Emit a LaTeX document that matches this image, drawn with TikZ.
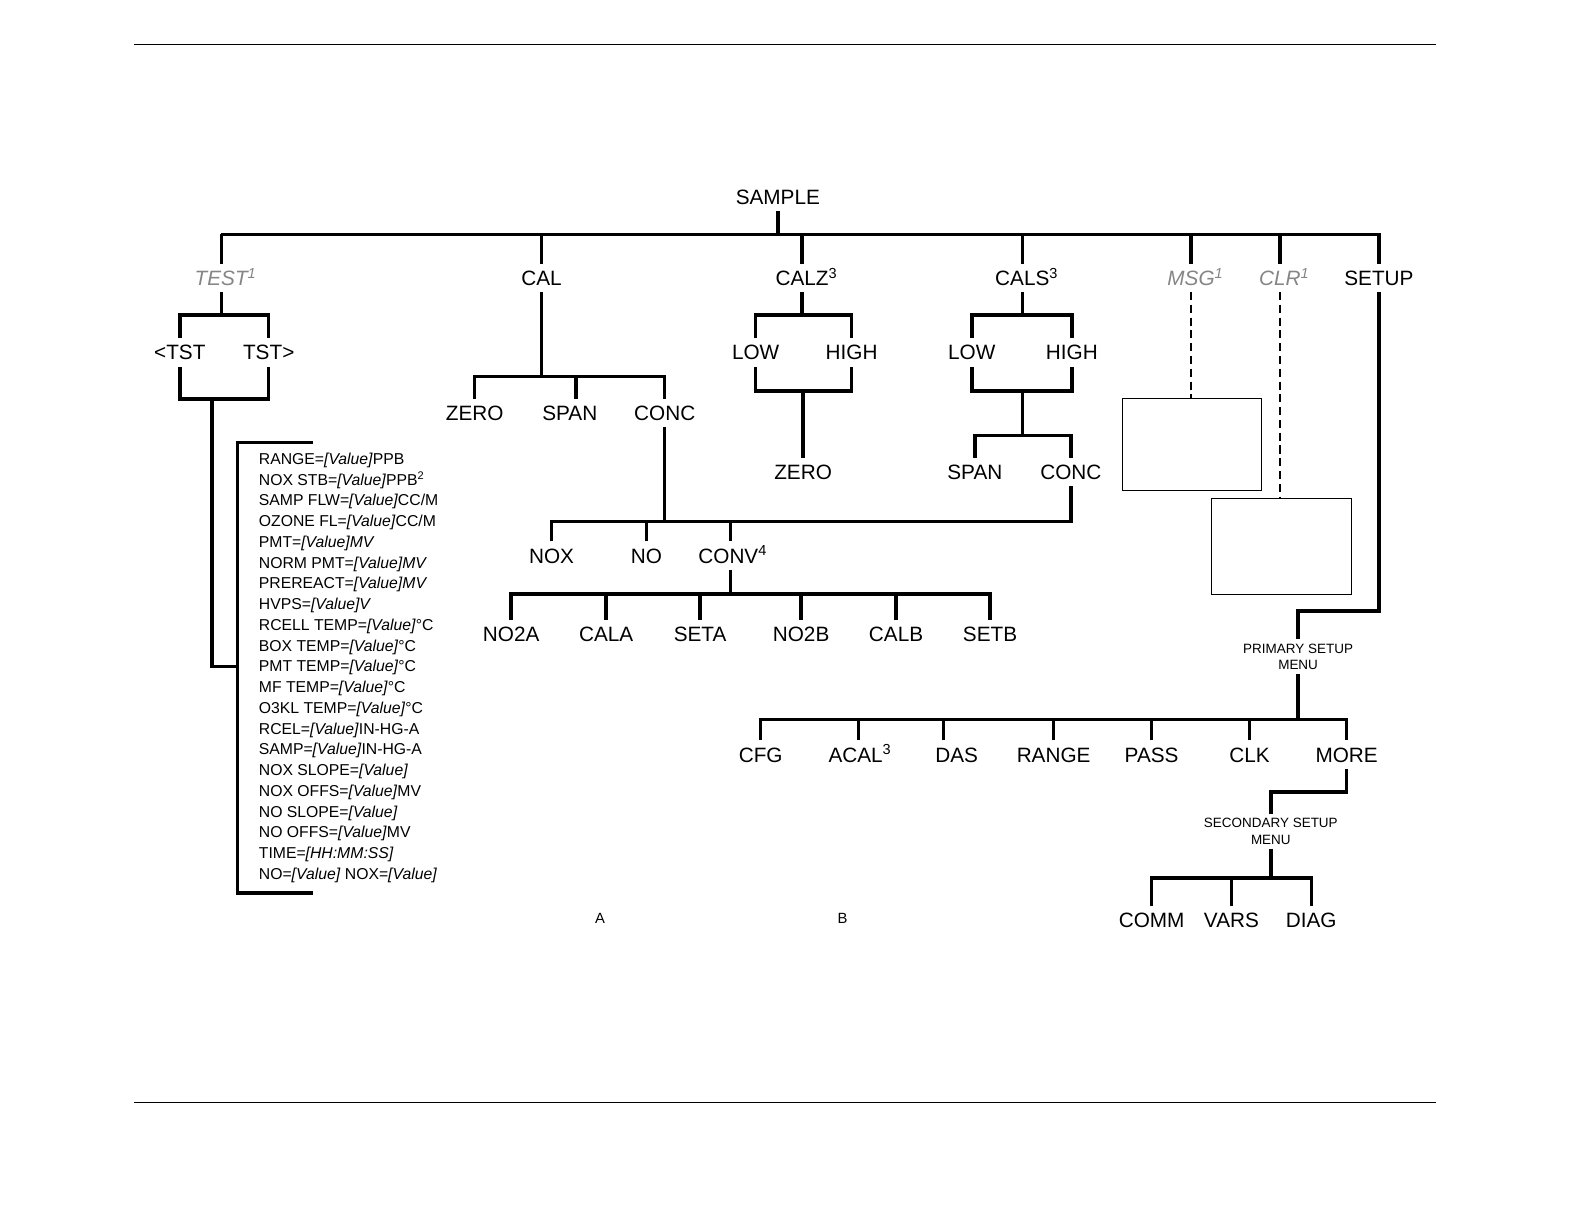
\documentclass[tikz,border=0pt]{standalone}
\usepackage{fontspec}
\setmainfont{Liberation Sans}
\newcommand\ival[1]{\textit{#1}}
\newcommand\supr[1]{\rlap{\textsuperscript{#1}}}
\begin{document}
\begin{tikzpicture}[x=0.75pt,y=-0.75pt,
  thk/.style={line width=2.5pt,line join=miter},
  lbl/.style={font=\fontsize{15.4}{18}\selectfont,inner sep=0pt,inner ysep=4.8pt,text height=11pt,text depth=0pt},
  glbl/.style={lbl,text=black!48,font=\fontsize{15.4}{18}\selectfont\itshape},
  sm/.style={font=\fontsize{10}{12}\selectfont,align=center,inner sep=0pt,inner ysep=3pt},
  lst/.style={font=\fontsize{11.7}{14}\selectfont,inner sep=0pt,text height=8.4pt,text depth=0pt,anchor=west},
  dsh/.style={line width=0.9pt,dash pattern=on 6pt off 3.5pt},
  emptybox/.style={draw,line width=0.7pt,inner sep=0pt}]
\useasboundingbox (0,0) rectangle (1568,1212);
% page rules
\coordinate (r1a) at (133,44); \coordinate (r1b) at (1421,44);
\coordinate (r2a) at (133,1091); \coordinate (r2b) at (1421,1091);
\draw[line width=0.8pt] (r1a) -- (r1b);
\draw[line width=0.8pt] (r2a) -- (r2b);
% level coordinates
\coordinate (bus) at (0,232);
\coordinate (tb1) at (0,312);
\coordinate (tb2) at (0,395);
\coordinate (calbar) at (0,373);
\coordinate (convbar) at (0,516);
\coordinate (no2bar) at (0,588);
\coordinate (sbar) at (0,431);
\coordinate (zb) at (0,387);
\coordinate (sj) at (0,605);
\coordinate (pbar) at (0,712);
\coordinate (mj) at (0,784);
\coordinate (cbar) at (0,869);
% nodes
\node[lbl] (sample) at (770,195) {SAMPLE};
\node[glbl] (test) at (219,275) {TEST\supr{1}};
\node[lbl] (cal) at (536,275) {CAL};
\node[lbl] (calz) at (794,275) {CALZ\supr{3}};
\node[lbl] (cals) at (1012,275) {CALS\supr{3}};
\node[glbl] (msg) at (1179,275) {MSG\supr{1}};
\node[glbl] (clr) at (1267,275) {CLR\supr{1}};
\node[lbl] (setup) at (1365,275) {SETUP};
\node[lbl] (ltst) at (178,349) {<TST};
\node[lbl] (rtst) at (266,349) {TST>};
\node[lbl] (zero1) at (470,409) {ZERO};
\node[lbl] (span1) at (564,409) {SPAN};
\node[lbl] (conc1) at (658,409) {CONC};
\node[lbl] (nox) at (546,550) {NOX};
\node[lbl] (no) at (640,550) {NO};
\node[lbl] (conv) at (721,550) {CONV\supr{4}};
\node[lbl] (no2a) at (506,628) {NO2A};
\node[lbl] (cala) at (600,628) {CALA};
\node[lbl] (seta) at (693,628) {SETA};
\node[lbl] (no2b) at (793,628) {NO2B};
\node[lbl] (calb) at (887,628) {CALB};
\node[lbl] (setb) at (980,628) {SETB};
\node[lbl] (lowz) at (748,349) {LOW};
\node[lbl] (highz) at (843,349) {HIGH};
\node[lbl] (zeroz) at (795,467) {ZERO};
\node[lbl] (lows) at (962,349) {LOW};
\node[lbl] (highs) at (1061,349) {HIGH};
\node[lbl] (spans) at (965,467) {SPAN};
\node[lbl] (concs) at (1060,467) {CONC};
\node[emptybox,minimum width=103.5pt,minimum height=69pt] (msgbox) at (1180,440) {};
\node[emptybox,minimum width=104.25pt,minimum height=71.25pt] (clrbox) at (1268.5,540.5) {};
\node[sm] (psm) at (1285,650) {PRIMARY SETUP\\MENU};
\node[lbl] (cfg) at (753,747) {CFG};
\node[lbl] (acal) at (847,747) {ACAL\supr{3}};
\node[lbl] (das) at (947,747) {DAS};
\node[lbl] (range) at (1043,747) {RANGE};
\node[lbl] (pass) at (1140,747) {PASS};
\node[lbl] (clk) at (1237,747) {CLK};
\node[lbl] (more) at (1333,747) {MORE};
\node[sm] (ssm) at (1258,823) {SECONDARY SETUP\\MENU};
\node[lbl] (comm) at (1140,911) {COMM};
\node[lbl] (vars) at (1219,911) {VARS};
\node[lbl] (diag) at (1298,911) {DIAG};
\node[font=\fontsize{11}{13}\selectfont] (la) at (594,909) {A};
\node[font=\fontsize{11}{13}\selectfont] (lb) at (834,909) {B};
% TEST list
\foreach \t [count=\i] in {
 {RANGE=\ival{[Value]}PPB},
 {NOX STB=\ival{[Value]}PPB\textsuperscript{2}},
 {SAMP FLW=\ival{[Value]}CC/M},
 {OZONE FL=\ival{[Value]}CC/M},
 {PMT=\ival{[Value]MV}},
 {NORM PMT=\ival{[Value]MV}},
 {PREREACT=\ival{[Value]MV}},
 {HVPS=\ival{[Value]V}},
 {RCELL TEMP=\ival{[Value]}°C},
 {BOX TEMP=\ival{[Value]}°C},
 {PMT TEMP=\ival{[Value]}°C},
 {MF TEMP=\ival{[Value]}°C},
 {O3KL TEMP=\ival{[Value]}°C},
 {RCEL=\ival{[Value]}IN-HG-A},
 {SAMP=\ival{[Value]}IN-HG-A},
 {NOX SLOPE=\ival{[Value]}},
 {NOX OFFS=\ival{[Value]}MV},
 {NO SLOPE=\ival{[Value]}},
 {NO OFFS=\ival{[Value]}MV},
 {TIME=\ival{[HH:MM:SS]}},
 {NO=\ival{[Value]} NOX=\ival{[Value]}}}
 \node[lst] (l\i) at (256,{454+20.55*(\i-1)}) {\t};
\coordinate (brtop) at (310,438);
\coordinate (brbot) at (310,884);
\coordinate (tj) at (210,395);
\coordinate (lj) at (235,660);
% main bus
\draw[thk] (sample.south) -- (sample.south |- bus);
\draw[thk] (test.north |- bus) -- (setup.north |- bus) -- (setup.north);
\foreach \n in {test,cal,calz,cals,msg,clr}
  \draw[thk] (\n.north) -- (\n.north |- bus);
% TEST
\draw[thk] (test.south) -- (test.south |- tb1);
\draw[thk] (ltst.north) -- (ltst.north |- tb1) -- (rtst.north |- tb1) -- (rtst.north);
\draw[thk] (ltst.south) -- (ltst.south |- tb2) -- (rtst.south |- tb2) -- (rtst.south);
\draw[thk] (tj) |- (lj);
\draw[thk] (brtop) -| (brbot -| lj) -- (brbot);
% CAL
\draw[thk] (cal.south) -- (cal.south |- calbar);
\draw[thk] (zero1.north) -- (zero1.north |- calbar) -- (conc1.north |- calbar) -- (conc1.north);
\draw[thk] ([xshift=4.5pt]span1.north) -- ([xshift=4.5pt]span1.north |- calbar);
\draw[thk] (conc1.south) -- (conc1.south |- convbar);
\draw[thk] (nox.north) -- (nox.north |- convbar) -- (concs.south |- convbar) -- (concs.south);
\draw[thk] (no.north) -- (no.north |- convbar);
\draw[thk] ([xshift=1.5pt]conv.north) -- ([xshift=1.5pt]conv.north |- convbar);
\draw[thk] ([xshift=1.5pt]conv.south) -- ([xshift=1.5pt]conv.south |- no2bar);
\draw[thk] (no2a.north) -- (no2a.north |- no2bar) -- (setb.north |- no2bar) -- (setb.north);
\foreach \n in {cala,seta,no2b,calb}
  \draw[thk] (\n.north) -- (\n.north |- no2bar);
% CALZ
\draw[thk] (calz.south) -- (calz.south |- tb1);
\draw[thk] (lowz.north) -- (lowz.north |- tb1) -- (highz.north |- tb1) -- (highz.north);
\draw[thk] (lowz.south) -- (lowz.south |- zb) -- (highz.south |- zb) -- (highz.south);
\draw[thk] (zeroz.north |- zb) -- (zeroz.north);
% CALS
\draw[thk] (cals.south) -- (cals.south |- tb1);
\draw[thk] (lows.north) -- (lows.north |- tb1) -- (highs.north |- tb1) -- (highs.north);
\draw[thk] (lows.south) -- (lows.south |- zb) -- (highs.south |- zb) -- (highs.south);
\draw[thk] (cals.south |- zb) -- (cals.south |- sbar);
\draw[thk] (spans.north) -- (spans.north |- sbar) -- (concs.north |- sbar) -- (concs.north);
% MSG / CLR
\draw[dsh] (msg.south) -- (msgbox.north -| msg.south);
\draw[dsh] (clr.south) -- (clrbox.north -| clr.south);
% SETUP
\draw[thk] (setup.south) -- (setup.south |- sj) -- (psm.north |- sj) -- (psm.north);
\draw[thk] (psm.south) -- (psm.south |- pbar);
\draw[thk] (cfg.north) -- (cfg.north |- pbar) -- (more.north |- pbar) -- (more.north);
\draw[thk] ([xshift=2.25pt]acal.north) -- ([xshift=2.25pt]acal.north |- pbar);
\draw[thk] ([xshift=-9.75pt]das.north) -- ([xshift=-9.75pt]das.north |- pbar);
\foreach \n in {range,pass,clk}
  \draw[thk] (\n.north) -- (\n.north |- pbar);
\draw[thk] (more.south) -- (more.south |- mj) -- (ssm.north |- mj) -- (ssm.north);
\draw[thk] (ssm.south) -- (ssm.south |- cbar);
\draw[thk] (comm.north) -- (comm.north |- cbar) -- (diag.north |- cbar) -- (diag.north);
\draw[thk] (vars.north) -- (vars.north |- cbar);
\end{tikzpicture}
\end{document}
